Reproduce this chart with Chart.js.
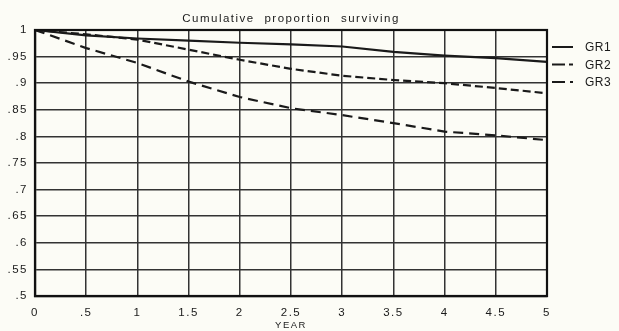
<!DOCTYPE html>
<html>
<head>
    <title>Cumulative proportion surviving</title>
    <script src="https://cdn.jsdelivr.net/npm/chart.js"></script>
    <style>
        html, body { margin: 0; padding: 0; background: #fcfcf6; }
        #wrap { width: 619px; height: 331px; }
    </style>
</head>
<body>
    <div id="wrap"><canvas id="chart" width="619" height="331"></canvas></div>

    <script>
        // survival by year, one array per group
        var years = [0, 0.5, 1, 1.5, 2, 2.5, 3, 3.5, 4, 4.5, 5];
        var gr1 = [1, 0.990, 0.984, 0.980, 0.976, 0.973, 0.969, 0.959, 0.952, 0.947, 0.940];
        var gr2 = [1, 0.992, 0.982, 0.963, 0.944, 0.927, 0.914, 0.906, 0.900, 0.891, 0.881];
        var gr3 = [1, 0.966, 0.938, 0.903, 0.874, 0.853, 0.840, 0.825, 0.809, 0.802, 0.793];
        var groupNames = ['GR1', 'GR2', 'GR3'];

        var titleText = 'Cumulative proportion surviving';
        var xTitle = 'YEAR';

        function pts(vals) {
            return years.map((y, i) => ({ x: y, y: vals[i] }));
        }

        // drop the leading zero: .5, .95 ...
        function fmt(v) {
            var s = String(+Number(v).toFixed(2));
            return s.replace(/^0\./, '.');
        }

        var ink = '#1a1a1a';
        var face = '"Liberation Sans", Arial, sans-serif';
        var legendDash = [[], [13, 4, 5, 10], [13, 5, 3, 10]];

        var paper = {
            id: 'paper',
            beforeDraw(chart) {
                var ctx = chart.ctx;
                ctx.save();
                ctx.fillStyle = '#fcfcf6';
                ctx.fillRect(0, 0, chart.width, chart.height);
                ctx.restore();
                ctx.letterSpacing = '1.5px';
            },
            afterDraw(chart) {
                var ctx = chart.ctx, a = chart.chartArea;
                ctx.save();
                // frame
                ctx.strokeStyle = '#111';
                ctx.lineWidth = 2.2;
                ctx.strokeRect(a.left, a.top, a.right - a.left, a.bottom - a.top);

                // title
                ctx.fillStyle = ink;
                ctx.font = '11.5px ' + face;
                ctx.letterSpacing = '1.5px';
                ctx.wordSpacing = '5px';
                ctx.textAlign = 'center';
                ctx.textBaseline = 'middle';
                ctx.fillText(titleText, (a.left + a.right) / 2, a.top - 11);
                ctx.wordSpacing = '0px';

                // legend on the right
                ctx.letterSpacing = '0.5px';
                ctx.font = '12px ' + face;
                ctx.textAlign = 'left';
                chart.data.datasets.forEach((ds, i) => {
                    var y = a.top + 17 + i * 17.5;
                    ctx.strokeStyle = ink;
                    ctx.lineWidth = 2;
                    ctx.setLineDash(legendDash[i]);
                    ctx.beginPath();
                    ctx.moveTo(a.right + 5, y);
                    ctx.lineTo(a.right + 26, y);
                    ctx.stroke();
                    ctx.setLineDash([]);
                    ctx.fillText(ds.label, a.right + 38, y + 1);
                });
                ctx.restore();
            }
        };

        var ctx = document.getElementById('chart').getContext('2d');
        new Chart(ctx, {
            type: 'line',
            data: {
                datasets: [
                    { label: groupNames[0], data: pts(gr1), borderDash: [] },
                    { label: groupNames[1], data: pts(gr2), borderDash: [8, 4] },
                    { label: groupNames[2], data: pts(gr3), borderDash: [10, 6] }
                ]
            },
            options: {
                responsive: false,
                animation: false,
                events: [],
                elements: {
                    line: { borderColor: ink, borderWidth: 2.2, tension: 0, fill: false },
                    point: { radius: 0 }
                },
                layout: { padding: { left: 0, right: 72, top: 30, bottom: 0 } },
                plugins: {
                    legend: { display: false },
                    title: { display: false },
                    tooltip: { enabled: false }
                },
                scales: {
                    x: {
                        type: 'linear',
                        min: 0,
                        max: 5,
                        ticks: {
                            stepSize: 0.5,
                            padding: 10,
                            color: ink,
                            font: { family: face, size: 11.5 },
                            callback: v => fmt(v),
                            maxRotation: 0,
                            autoSkip: false
                        },
                        grid: { color: '#333', lineWidth: 1.5, drawTicks: false },
                        border: { color: '#111', width: 2.2 },
                        title: {
                            display: true,
                            text: xTitle,
                            color: ink,
                            font: { family: face, size: 9.5 },
                            padding: { top: 1, bottom: 0 }
                        },
                        afterFit(scale) { scale.height = 35; }
                    },
                    y: {
                        min: 0.5,
                        max: 1,
                        ticks: {
                            stepSize: 0.05,
                            padding: 7,
                            color: ink,
                            font: { family: face, size: 11.5 },
                            callback: v => fmt(v),
                            autoSkip: false
                        },
                        grid: { color: '#333', lineWidth: 1.5, drawTicks: false },
                        border: { color: '#111', width: 2.2 },
                        afterFit(scale) { scale.width = 35; }
                    }
                }
            },
            plugins: [paper]
        });
    </script>
</body>
</html>
